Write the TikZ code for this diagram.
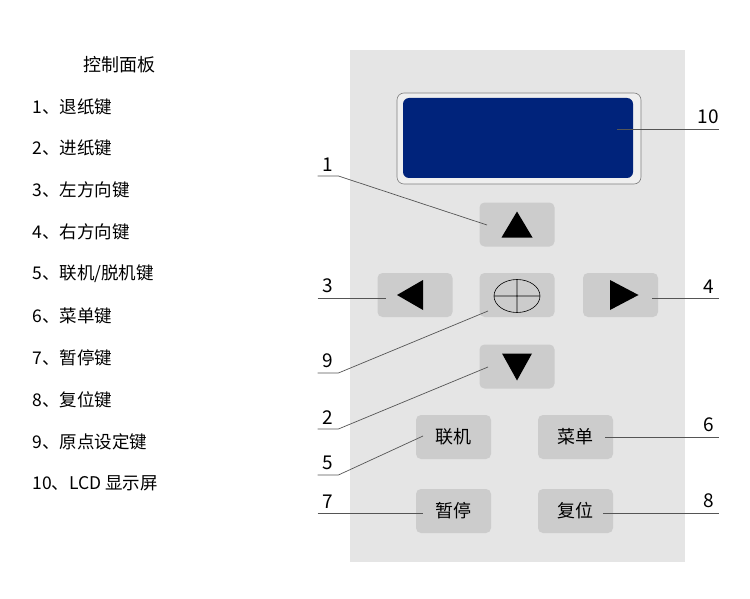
\documentclass[tikz,border=0pt]{standalone}
\usepackage{fontspec}
\setmainfont{Noto Sans CJK SC}
\usetikzlibrary{positioning}
\definecolor{panelgray}{HTML}{E5E5E5}
\definecolor{keygray}{HTML}{CCCCCC}
\definecolor{lcdblue}{HTML}{00237B}
\definecolor{leadgray}{HTML}{555555}
\begin{document}
\begin{tikzpicture}[x=1pt,y=-1pt,line width=0.8pt]
  \tikzstyle{key}=[fill=keygray, rounded corners=5pt, minimum width=75pt, minimum height=44pt, inner sep=0pt, font=\fontsize{18}{20}\selectfont]
  \tikzstyle{num}=[inner xsep=0pt, inner ysep=4.5pt, minimum width=20pt, font=\fontsize{19}{20}\selectfont]
  \tikzstyle{item}=[anchor=west, inner sep=0pt, font=\fontsize{17.5}{20}\selectfont]
  \tikzstyle{lead}=[draw=leadgray, line width=0.7pt]

  \useasboundingbox (0,0) rectangle (750,599);

  % legend
  \node[inner sep=0pt, font=\fontsize{18}{20}\selectfont] (title) at (119.5,65) {控制面板};
  \node[item] (item1) at (32,106.5) {1、退纸键};
  \node[item] (item2) at (32,148) {2、进纸键};
  \node[item] (item3) at (32,190) {3、左方向键};
  \node[item] (item4) at (32,232) {4、右方向键};
  \node[item] (item5) at (32,273.5) {5、联机/脱机键};
  \node[item] (item6) at (32,316) {6、菜单键};
  \node[item] (item7) at (32,358) {7、暂停键};
  \node[item] (item8) at (32,400) {8、复位键};
  \node[item] (item9) at (32,442) {9、原点设定键};
  \node[item] (item10) at (32,483) {10、LCD 显示屏};

  % panel
  \node[fill=panelgray, minimum width=335pt, minimum height=512pt, inner sep=0pt] (panel) at (517.5,306) {};
  \node[draw=gray, line width=0.6pt, fill=panelgray!60!white, rounded corners=7pt, minimum width=244pt, minimum height=91pt, inner sep=0pt] (lcd) at (519,138.5) {};
  \node[fill=lcdblue, rounded corners=6pt, minimum width=230pt, minimum height=80pt, inner sep=0pt] (screen) at (518,138) {};

  \node[key] (up) at (517,224.5) {};
  \node[key] (left) at (415,295) {};
  \node[key] (origin) at (517,295) {};
  \node[key] (right) at (620.5,295) {};
  \node[key] (down) at (517,366.5) {};
  \node[key] (online) at (453.5,437) {联机};
  \node[key] (menu) at (575.5,437) {菜单};
  \node[key] (pause) at (453.5,511) {暂停};
  \node[key] (reset) at (575.5,511) {复位};

  \fill[shift={(up)}] (0,-13) -- (15.5,13) -- (-15.5,13) -- cycle;
  \fill[shift={(down)}] (0,14) -- (15,-13) -- (-15,-13) -- cycle;
  \fill[shift={(left)}] (-18,0) -- (8,-15) -- (8,15) -- cycle;
  \fill[shift={(right)}] (18,0) -- (-10.5,-15) -- (-10.5,15) -- cycle;
  \draw[line width=0.6pt, shift={(origin)}] (0,1) ellipse (23 and 16.5)
    (0,-15.5) -- (0,17.5) (-23,1) -- (23,1);

  % leaders
  \node[num, anchor=south] (l1) at (328,176) {1};
  \node[num, anchor=south] (l3) at (328,298) {3};
  \node[num, anchor=south] (l9) at (328,373) {9};
  \node[num, anchor=south] (l2) at (328,429) {2};
  \node[num, anchor=south] (l5) at (328,475) {5};
  \node[num, anchor=south] (l7) at (328,513) {7};
  \node[num, anchor=south east] (l10) at (719,129) {10};
  \node[num, anchor=south east] (l4) at (719,298) {4};
  \node[num, anchor=south east] (l6) at (719,437) {6};
  \node[num, anchor=south east] (l8) at (719,513) {8};

  \coordinate (p1) at (487,225);
  \coordinate (p3) at (386,298);
  \coordinate (p9) at (488,311);
  \coordinate (p2) at (488,367);
  \coordinate (p5) at (423,436);
  \coordinate (p7) at (423,513);
  \coordinate (p10) at (617,129);
  \coordinate (p4) at (652,298);
  \coordinate (p6) at (605,437);
  \coordinate (p8) at (603,513);

  \draw[lead] (l1.south west) -- (l1.south east) -- (p1);
  \draw[lead] (l3.south west) -- (p3);
  \draw[lead] (l9.south west) -- (l9.south east) -- (p9);
  \draw[lead] (l2.south west) -- (l2.south east) -- (p2);
  \draw[lead] (l5.south west) -- (l5.south east) -- (p5);
  \draw[lead] (l7.south west) -- (p7);
  \draw[lead] (p10) -- (l10.south east);
  \draw[lead] (p4) -- (l4.south east);
  \draw[lead] (p6) -- (l6.south east);
  \draw[lead] (p8) -- (l8.south east);
\end{tikzpicture}
\end{document}
